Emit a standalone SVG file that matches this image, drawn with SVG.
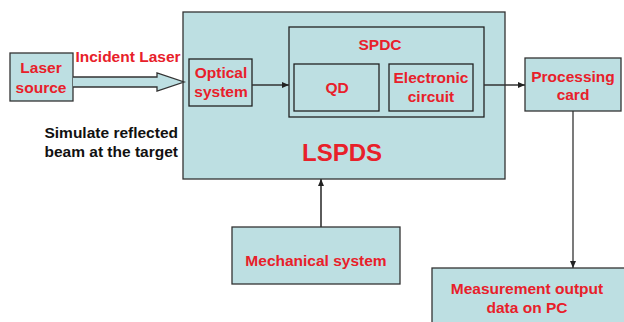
<svg xmlns="http://www.w3.org/2000/svg" width="624" height="322" viewBox="0 0 624 322">
<defs>
<style>
.box{fill:#BDDFE2;stroke:#333;stroke-width:1.3}
.inner{fill:none;stroke:#222;stroke-width:1.3}
.r{font-family:"Liberation Sans",Arial,sans-serif;font-weight:bold;font-size:15.5px;fill:#E8202A;text-anchor:middle}
.k{font-family:"Liberation Sans",Arial,sans-serif;font-weight:bold;font-size:15.5px;fill:#111;text-anchor:end}
.ln{stroke:#333;stroke-width:1.3;fill:none}
</style>
<marker id="ah" markerWidth="8" markerHeight="8" refX="7" refY="4" orient="auto" markerUnits="userSpaceOnUse">
<path d="M0,1 L7,4 L0,7 Z" fill="#222"/>
</marker>
</defs>
<rect width="624" height="322" fill="#fff"/>
<g id="lspds">
<rect class="box" x="183" y="12" width="322" height="167"/>
<text class="r" x="342" y="161" style="font-size:24px">LSPDS</text>
</g>
<g id="spdc">
<rect class="inner" x="289" y="27" width="195" height="90"/>
<text class="r" x="380" y="50">SPDC</text>
</g>
<g id="optical">
<rect class="inner" x="189" y="59" width="63" height="47"/>
<text class="r" x="221" y="78">Optical</text>
<text class="r" x="221" y="97">system</text>
</g>
<g id="qd">
<rect class="inner" x="294" y="64" width="85" height="47"/>
<text class="r" x="337" y="93">QD</text>
</g>
<g id="electronic">
<rect class="inner" x="389" y="64" width="84" height="47"/>
<text class="r" x="431" y="83">Electronic</text>
<text class="r" x="431" y="102">circuit</text>
</g>
<g id="laser">
<rect class="box" x="10" y="53" width="63" height="48"/>
<text class="r" x="41" y="73">Laser</text>
<text class="r" x="41" y="93">source</text>
</g>
<g id="processing">
<rect class="box" x="525" y="58" width="96" height="53"/>
<text class="r" x="573" y="82">Processing</text>
<text class="r" x="573" y="100">card</text>
</g>
<g id="mechanical">
<rect class="box" x="232" y="227" width="168" height="57"/>
<text class="r" x="316" y="266">Mechanical system</text>
</g>
<g id="measurement">
<rect class="box" x="432" y="268" width="200" height="60"/>
<text class="r" x="527" y="294">Measurement output</text>
<text class="r" x="527" y="313">data on PC</text>
</g>
<g id="labels">
<text class="r" x="128" y="62">Incident Laser</text>
<text class="k" x="178" y="138">Simulate reflected</text>
<text class="k" x="178" y="157">beam at the target</text>
</g>
<g id="connectors">
<path d="M73,77 L157,77 L157,73 L184,82 L157,91 L157,87 L73,87" fill="#BDDFE2" stroke="#333" stroke-width="1.3"/>
<line class="ln" x1="252" y1="85" x2="289" y2="85" marker-end="url(#ah)"/>
<line class="ln" x1="484" y1="85" x2="525" y2="85" marker-end="url(#ah)"/>
<line class="ln" x1="573" y1="111" x2="573" y2="268" marker-end="url(#ah)"/>
<line class="ln" x1="321" y1="227" x2="321" y2="179" marker-end="url(#ah)" style="stroke-width:1.6"/>
</g>
</svg>
